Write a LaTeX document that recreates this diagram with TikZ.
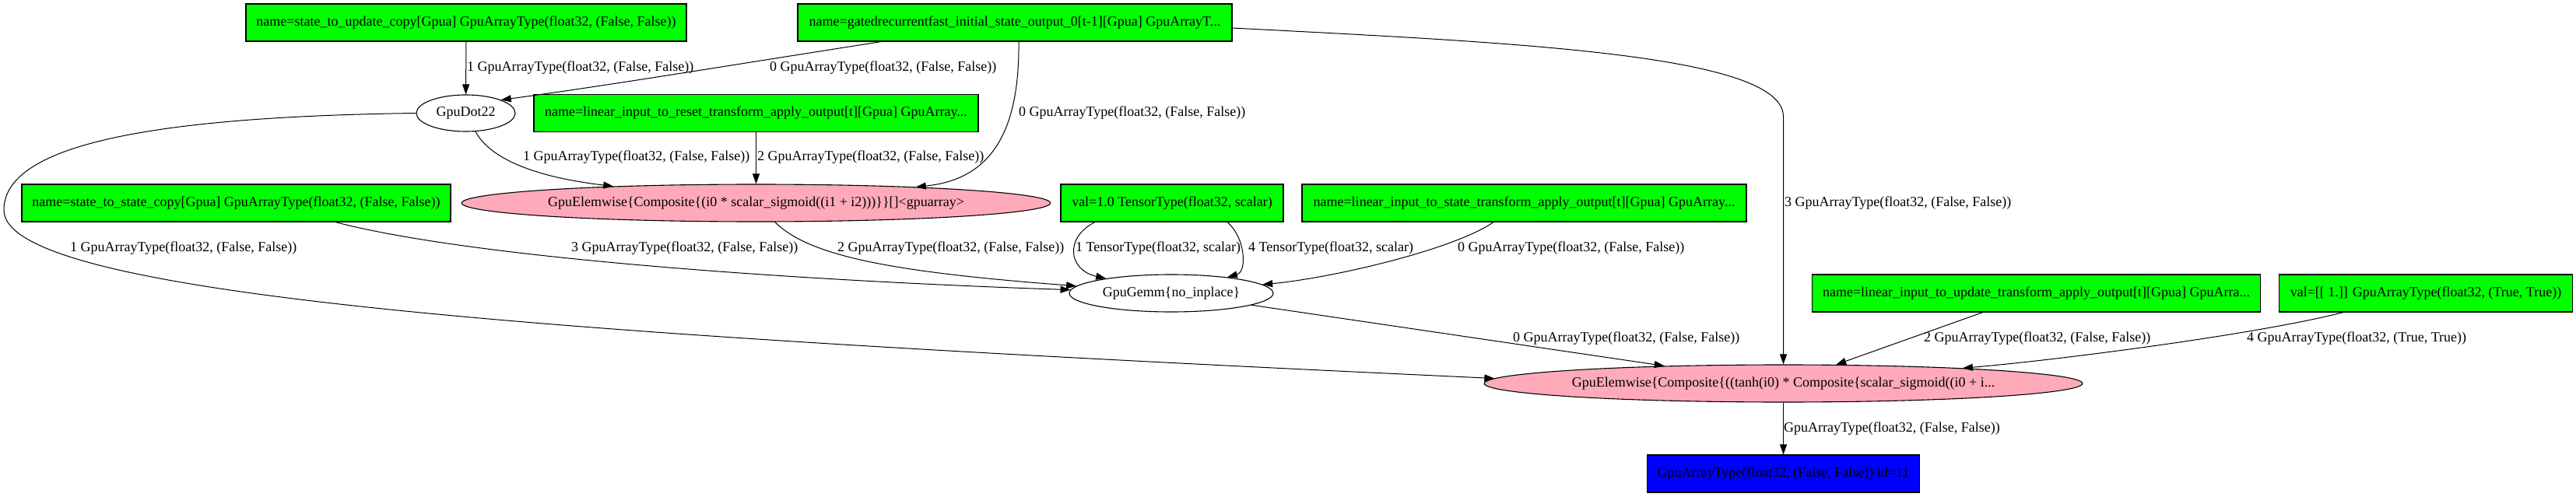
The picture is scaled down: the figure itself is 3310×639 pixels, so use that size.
\documentclass[tikz,border=0pt]{standalone}
\usepackage{fontspec}
\setmainfont{Liberation Serif}
\usepackage{tikz}
\usetikzlibrary{arrows.meta,calc,shapes.geometric}
\definecolor{InputGreen}{RGB}{0,255,0}
\definecolor{ElemPink}{RGB}{255,170,187}
\definecolor{OutputBlue}{RGB}{0,0,255}
\newcommand{\graphfont}{\fontsize{18}{20}\selectfont}
\tikzset{
  inbox/.style={draw, line width=1.1pt, fill=InputGreen, minimum width=#1,
    minimum height=48pt, inner sep=0pt, font=\graphfont},
  inbox/.default=560pt,
  outbox/.style={draw, line width=1.1pt, fill=OutputBlue, minimum width=#1,
    minimum height=48pt, inner sep=0pt, font=\graphfont},
  outbox/.default=350pt,
  opnode/.style={ellipse, draw, line width=1.1pt, fill=white, minimum width=#1,
    minimum height=48pt, inner sep=0pt, font=\graphfont},
  opnode/.default=262pt,
  ewnode/.style={opnode=#1, fill=ElemPink},
  ewnode/.default=740pt,
  edgearr/.style={-{Triangle[length=13pt, width=9pt]}, line width=1pt},
  edgelab/.style={anchor=west, inner sep=0pt, font=\graphfont},
}

\begin{document}
\begin{tikzpicture}[x=1pt, y=-1pt]
  \useasboundingbox (0,0) rectangle (3310,639);

  % inputs and ops
  \node[inbox=566pt] (stu) at (599,29) {name=state\_to\_update\_copy[Gpua] GpuArrayType(float32, (False, False))};
  \node[inbox=558pt] (gated) at (1304,29) {name=gatedrecurrentfast\_initial\_state\_output\_0[t-1][Gpua] GpuArrayT...};
  \node[opnode=127pt, minimum height=47pt] (dot) at (598.5,145.5) {GpuDot22};
  \node[inbox=571pt] (reset) at (971.5,145.5) {name=linear\_input\_to\_reset\_transform\_apply\_output[t][Gpua] GpuArray...};
  \node[inbox=551pt] (sts) at (303.5,261) {name=state\_to\_state\_copy[Gpua] GpuArrayType(float32, (False, False))};
  \node[ewnode=737pt] (ew1) at (971.5,261) {GpuElemwise\{Composite\{(i0 * scalar\_sigmoid((i1 + i2)))\}\}[]<gpuarray>};
  \node[inbox=286pt] (val) at (1506,261) {val=1.0 TensorType(float32, scalar)};
  \node[inbox=571pt] (sta) at (1958.5,261) {name=linear\_input\_to\_state\_transform\_apply\_output[t][Gpua] GpuArray...};
  \node[opnode=262pt] (gemm) at (1505,377) {GpuGemm\{no\_inplace\}};
  \node[inbox=576pt] (update) at (2616.5,377) {name=linear\_input\_to\_update\_transform\_apply\_output[t][Gpua] GpuArra...};
  \node[inbox=377pt] (valb) at (3117,377) {val=[[ 1.]] GpuArrayType(float32, (True, True))};
  \node[ewnode=745pt] (ew2) at (2291.5,493) {GpuElemwise\{Composite\{((tanh(i0) * Composite\{scalar\_sigmoid((i0 + i...};
  \node[outbox=350pt] (out) at (2291.5,609) {GpuArrayType(float32, (False, False)) id=11};

  \coordinate (gbend) at (2291.5,150);
  \coordinate (dbend) at (5,270);

  % edges
  \draw[edgearr] (stu) -- (dot);
  \draw[edgearr] ($(gated.south west)+(108,0)$) .. controls (900,90) and (780,110) .. (dot.north east);
  \draw[edgearr] (dot) .. controls (630,205) and (690,228) .. (ew1);
  \draw[edgearr] (reset) -- (ew1);
  \draw[edgearr] ($(gated.south)+(5,0)$) .. controls (1310,160) and (1280,230) .. (ew1);
  \draw[edgearr] ($(gated.east)+(0,7)$) .. controls (1950,55) and (2291.5,70) .. (gbend) -- (ew2);
  \draw[edgearr] (dot.west) .. controls (200,150) and (5,185) .. (dbend)
    .. controls (5,380) and (700,430) .. (ew2.179);
  \draw[edgearr] ($(sts.south)+(127.5,0)$) .. controls (600,330) and (1000,360) .. (gemm);
  \draw[edgearr] (ew1) .. controls (1040,330) and (1150,350) .. (gemm);
  \draw[edgearr] ($(val.south)+(-99,0)$) .. controls (1368,305) and (1372,347) .. (gemm);
  \draw[edgearr] ($(val.south)+(71,0)$) .. controls (1600,305) and (1603,349) .. (gemm);
  \draw[edgearr] ($(sta.south)+(-39.5,0)$) .. controls (1870,320) and (1715,357) .. (gemm);
  \draw[edgearr] (gemm) -- (ew2);
  \draw[edgearr] (update) -- (ew2);
  \draw[edgearr] ($(valb.south)+(-106,0)$) .. controls (2900,430) and (2643,463) .. (ew2);
  \draw[edgearr] (ew2) -- (out);

  % edge labels
  \node[edgelab] (l1) at (600,87) {1 GpuArrayType(float32, (False, False))};
  \node[edgelab] (l2) at (989,87) {0 GpuArrayType(float32, (False, False))};
  \node[edgelab] (l3) at (672,202) {1 GpuArrayType(float32, (False, False))};
  \node[edgelab] (l4) at (973,202) {2 GpuArrayType(float32, (False, False))};
  \node[edgelab] (l5) at (1309,145) {0 GpuArrayType(float32, (False, False))};
  \node[edgelab] (l6) at (2293,261) {3 GpuArrayType(float32, (False, False))};
  \node[edgelab] (l7) at (90,319) {1 GpuArrayType(float32, (False, False))};
  \node[edgelab] (l8) at (734,319) {3 GpuArrayType(float32, (False, False))};
  \node[edgelab] (l9) at (1076,319) {2 GpuArrayType(float32, (False, False))};
  \node[edgelab] (l10) at (1382,319) {1 TensorType(float32, scalar)};
  \node[edgelab] (l11) at (1604,319) {4 TensorType(float32, scalar)};
  \node[edgelab] (l12) at (1873,319) {0 GpuArrayType(float32, (False, False))};
  \node[edgelab] (l13) at (1944,435) {0 GpuArrayType(float32, (False, False))};
  \node[edgelab] (l14) at (2472,435) {2 GpuArrayType(float32, (False, False))};
  \node[edgelab] (l15) at (2887,435) {4 GpuArrayType(float32, (True, True))};
  \node[edgelab] (l16) at (2292,551) {GpuArrayType(float32, (False, False))};
\end{tikzpicture}
\end{document}
